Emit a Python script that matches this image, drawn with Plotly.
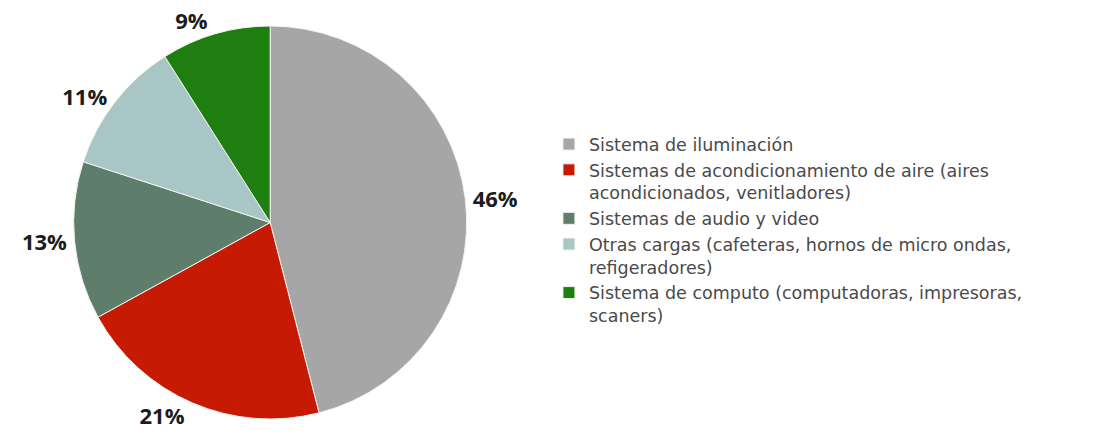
import plotly.graph_objects as go

# Energy use shares by load type
categories = [
    "Sistema de iluminación",
    "Sistemas de acondicionamiento de aire (aires<br>acondicionados, venitladores)",
    "Sistemas de audio y video",
    "Otras cargas (cafeteras, hornos de micro ondas,<br>refigeradores)",
    "Sistema de computo (computadoras, impresoras,<br>scaners)",
]
shares = [46, 21, 13, 11, 9]
slice_colors = ["#a6a6a6", "#c71a02", "#5e7d6a", "#a8c6c5", "#1f7e10"]

fig = go.Figure(
    go.Pie(
        labels=categories,
        values=shares,
        sort=False,
        direction="clockwise",
        rotation=0,
        marker=dict(colors=slice_colors, line=dict(color="#f2f2f2", width=1)),
        textinfo="percent",
        texttemplate="%{value}%",
        textposition="outside",
        textfont=dict(family="Open Sans", size=22, color="#1c1c1c", weight=700),
        hoverinfo="label+value",
        domain=dict(x=[0.018, 0.409], y=[0.0, 1.0]),
    )
)

fig.update_layout(
    width=1096,
    height=435,
    margin=dict(l=0, r=0, t=6, b=0),
    paper_bgcolor="white",
    plot_bgcolor="white",
    showlegend=True,
    legend=dict(
        x=0.479,
        y=0.745,
        xanchor="left",
        yanchor="top",
        valign="top",
        font=dict(family="DejaVu Sans", size=17.5, color="#4a4a4a"),
        itemwidth=30,
        tracegroupgap=0,
    ),
)

fig.write_html("out.html")
